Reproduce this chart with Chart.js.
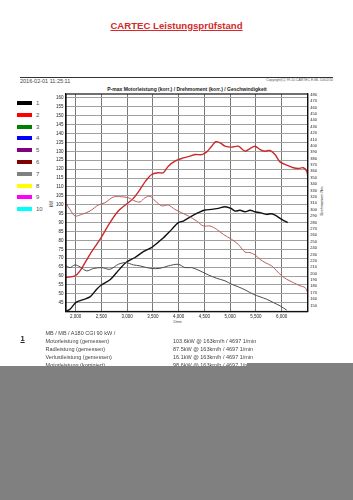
<!DOCTYPE html>
<html><head><meta charset="utf-8">
<script src="https://cdn.jsdelivr.net/npm/chart.js@4.4.0/dist/chart.umd.min.js"></script>
<style>
html,body{margin:0;padding:0;background:#fff;width:353px;height:500px;overflow:hidden;font-family:'Liberation Sans',Arial,sans-serif;}
.t{position:absolute;white-space:nowrap;line-height:1;}
#c{position:absolute;left:0;top:0;}
.sw{position:absolute;left:17px;width:14.5px;height:4px;}
.lb{position:absolute;left:36px;font-size:6px;line-height:1;color:#555;}
.rot{position:absolute;transform:translate(-50%,-50%) rotate(-90deg);white-space:nowrap;line-height:1;}
</style></head><body>
<div class="t" style="left:0;width:353px;text-align:center;top:20.5px;font-size:9.6px;font-weight:bold;color:#d42a2a;text-decoration:underline;">CARTEC Leistungsprüfstand</div>
<div style="position:absolute;left:20px;top:76.5px;width:313px;height:1.6px;background:#333"></div>
<div class="t" style="left:20px;top:78.5px;font-size:5.5px;color:#444">2016-02-01 11:25:11</div>
<div class="t" style="right:20px;top:79px;font-size:3.4px;color:#555">Copyright(C) 99-10 CARTEC E-ML 10/02/10</div>
<div class="t" style="left:66px;width:242px;text-align:center;top:86.5px;font-size:5px;font-weight:bold;color:#222">P-max Motorleistung (korr.) / Drehmoment (korr.) / Geschwindigkeit</div>
<div id="legend"></div>
<div class="rot" style="left:52px;top:204px;font-size:4.5px;color:#333">kW</div>
<div class="rot" style="left:323px;top:201px;font-size:3.8px;color:#333">Drehmoment Nm</div>
<div class="t" style="left:173px;top:320.5px;font-size:3.6px;color:#444">1/min</div>
<canvas id="c" width="353" height="500"></canvas>
<div class="t" style="left:20.5px;top:334.5px;font-size:7.5px;font-weight:bold;color:#222;text-decoration:underline">1</div>
<div class="t" style="left:45.5px;top:331.3px;font-size:5.5px;color:#444">MB / MB / A180 CGI 90 kW /</div>
<div class="t" style="left:45.5px;top:339px;font-size:5.5px;color:#444">Motorleistung (gemessen)</div>
<div class="t" style="left:45.5px;top:346.6px;font-size:5.5px;color:#444">Radleistung (gemessen)</div>
<div class="t" style="left:45.5px;top:354.6px;font-size:5.5px;color:#444">Verlustleistung (gemessen)</div>
<div class="t" style="left:45.5px;top:363px;font-size:5.5px;color:#444">Motorleistung (korrigiert)</div>
<div class="t" style="left:173px;top:339px;font-size:5.5px;color:#444">103.6kW @ 163km/h / 4697 1/min</div>
<div class="t" style="left:173px;top:346.6px;font-size:5.5px;color:#444">87.5kW @ 163km/h / 4697 1/min</div>
<div class="t" style="left:173px;top:354.6px;font-size:5.5px;color:#444">16.1kW @ 163km/h / 4697 1/min</div>
<div class="t" style="left:173px;top:363px;font-size:5.5px;color:#444">98.6kW @ 163km/h / 4697 1/min</div>
<div style="position:absolute;left:0;top:366px;width:353px;height:134px;background:#808080"></div>
<div style="position:absolute;left:247px;top:362.7px;width:106px;height:4px;background:#808080"></div>
<script>
// ---- data ----
const legendLabels = ['1','2','3','4','5','6','7','8','9','10'];
const legendColors = ['#000000','#ff0000','#008000','#0000ff','#800080','#800000','#808080','#ffff00','#ff00ff','#00ffff'];

const xTicks  = [2000,2500,3000,3500,4000,4500,5000,5500,6000];
const kwTicks = [45,50,55,60,65,70,75,80,85,90,95,100,105,110,115,120,125,130,135,140,145,150,155,160];
const nmTicks = [150,160,170,180,190,200,210,220,230,240,250,260,270,280,290,300,310,320,330,340,350,360,370,380,390,400,410,420,430,440,450,460,470,480];

// run 1 (black): engine power kW
const rpmBlack = [1812,1889,2006,2148,2278,2408,2505,2666,2796,2977,3152,3313,3443,3476,3670,3864,3993,4090,4253,4381,4511,4641,4769,4899,5016,5093,5190,5288,5385,5482,5579,5709,5806,5903,6001,6117];
const kwBlack  = [40.3,41.4,45.2,46.8,48.3,52.6,55.1,57.9,62.0,67.6,70.4,73.7,75.6,76.0,80.6,86.2,90.0,90.9,93.7,95.6,97.1,97.4,98.0,98.9,98.0,96.5,96.9,96.1,96.9,96.1,95.6,94.6,95.0,93.7,91.8,90.0];
// run 1 torque Nm
const rpmGray = [1812,1889,1986,2084,2214,2342,2505,2666,2827,2977,3119,3249,3460,3637,3798,3993,4123,4253,4414,4575,4738,4899,5029,5158,5288,5449,5579,5709,5837,5967,6098];
const nmGray  = [212.0,209.3,213.6,210.4,204.2,207.8,209.3,206.7,214.5,217.2,213.6,212.0,208.0,208.2,212.0,214.5,209.3,209.3,204.2,197.9,192.6,188.6,183.3,179.2,174.5,167.6,163.6,159.8,154.7,149.5,142.7];
// run 2 (red): power kW
const rpmRed = [1812,1986,2084,2278,2472,2666,2827,2977,3119,3249,3357,3476,3604,3701,3798,3928,4058,4187,4317,4447,4544,4641,4719,4803,4899,5029,5158,5288,5385,5482,5579,5676,5773,5870,5967,6097,6226,6323,6420,6486,6505];
const kwRed  = [59.2,60.1,62.9,72.2,80.6,90.0,96.5,100.2,103.6,108.6,113.3,117.0,118.0,118.0,121.7,124.5,126.0,127.0,128.2,128.2,129.7,132.9,135.4,134.8,132.9,132.4,132.9,130.1,131.6,132.9,131.0,130.1,130.5,128.2,124.1,122.3,120.8,120.4,120.8,118.9,116.1];
// run 2 torque Nm
const rpmPink = [1812,1889,1986,2117,2278,2439,2569,2730,2893,3021,3152,3249,3346,3443,3540,3670,3798,3928,4058,4187,4350,4478,4608,4738,4866,5029,5158,5288,5385,5482,5579,5676,5806,5903,6001,6098,6226,6356,6453,6505];
const nmPink  = [309.8,300.4,290.1,292.6,297.9,307.3,310.9,319.8,320.2,318.7,313.5,312.0,318.7,321.0,314.0,306.0,307.3,300.4,295.2,290.1,282.3,274.5,274.5,269.2,261.4,253.5,245.7,233.6,232.8,229.2,222.3,217.2,212.0,204.2,196.4,191.1,185.9,180.8,178.1,170.3];

// ---- legend ----
const lg = document.getElementById('legend');
legendLabels.forEach((l,i)=>{
  const top = 101 + i*11.8;
  const s = document.createElement('div'); s.className='sw'; s.style.top=top+'px'; s.style.background=legendColors[i]; lg.appendChild(s);
  const t = document.createElement('div'); t.className='lb'; t.style.top=(top-1)+'px'; t.textContent=l; lg.appendChild(t);
});

const pts = (xs,ys)=>xs.map((x,i)=>({x:x,y:ys[i]}));
const fmt = v => String(v).replace(/\B(?=(\d{3})+(?!\d))/g, ',');
const FONT = {family:"'Liberation Sans', Arial, sans-serif", size:4.5};

const frame = {id:'frame', afterDraw(c){const a=c.chartArea, x=c.ctx; x.save(); x.strokeStyle='#111'; x.lineWidth=1.2; x.strokeRect(a.left,a.top,a.right-a.left,a.bottom-a.top); x.restore();}};

new Chart(document.getElementById('c'), {
  type:'line',
  data:{datasets:[
    {label:'1 Drehmoment', data:pts(rpmGray,nmGray), yAxisID:'y1', borderColor:'#4d4d4d', borderWidth:1},
    {label:'2 Drehmoment', data:pts(rpmPink,nmPink), yAxisID:'y1', borderColor:'#b86060', borderWidth:1},
    {label:'2 Leistung', data:pts(rpmRed,kwRed), yAxisID:'y', borderColor:'#cc2a2a', borderWidth:1.4},
    {label:'1 Leistung', data:pts(rpmBlack,kwBlack), yAxisID:'y', borderColor:'#111111', borderWidth:1.4}
  ]},
  options:{
    responsive:false, animation:false, devicePixelRatio:1,
    layout:{padding:{left:40,right:0,top:94,bottom:176.5}},
    plugins:{legend:{display:false}, tooltip:{enabled:false}},
    elements:{point:{radius:0}, line:{tension:0.3, fill:false}},
    scales:{
      x:{type:'linear', min:1812, max:6505,
        afterBuildTicks:a=>{a.ticks=xTicks.map(v=>({value:v}));},
        afterFit:a=>{a.height=12;},
        ticks:{font:FONT, color:'#222', padding:3, maxRotation:0, autoSkip:false, callback:v=>fmt(v)},
        grid:{color:'#7a7a7a', lineWidth:1, drawTicks:false},
        border:{display:true, color:'#111', width:1.2}},
      y:{position:'left', min:40.1, max:162.2,
        afterBuildTicks:a=>{a.ticks=kwTicks.map(v=>({value:v}));},
        afterFit:a=>{a.width=26;},
        ticks:{font:FONT, color:'#222', padding:2.5, autoSkip:false},
        grid:{color:'#a0a0a0', lineWidth:1, drawTicks:false},
        border:{display:true, color:'#111', width:1.2}},
      y1:{position:'right', min:140.6, max:481.1,
        afterBuildTicks:a=>{a.ticks=nmTicks.map(v=>({value:v}));},
        afterFit:a=>{a.width=45.3;},
        ticks:{font:{family:FONT.family,size:4}, color:'#222', padding:2.5, autoSkip:false},
        grid:{display:false, drawTicks:false},
        border:{display:true, color:'#111', width:1.2}}
    }
  },
  plugins:[frame]
});
</script>
</body></html>
